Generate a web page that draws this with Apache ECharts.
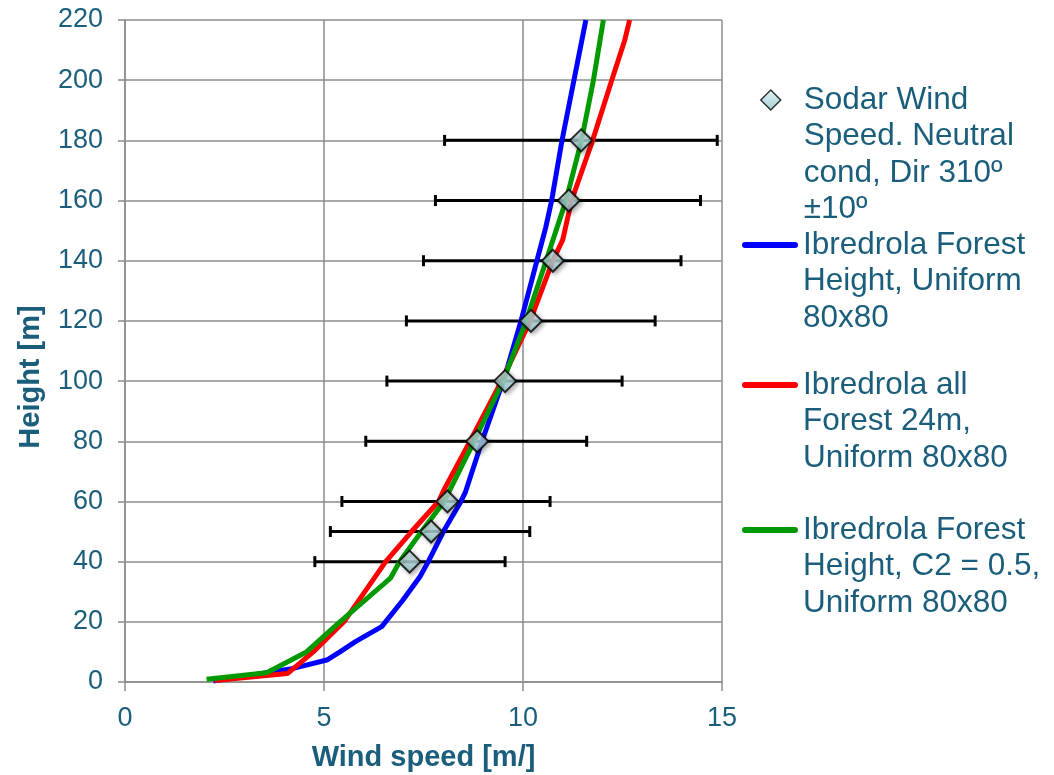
<!DOCTYPE html>
<html>
<head>
<meta charset="utf-8">
<script src="https://cdn.jsdelivr.net/npm/echarts@6/dist/echarts.min.js"></script>
<style>
  html, body { margin: 0; padding: 0; background: #ffffff; }
  #chart { width: 1054px; height: 775px; }
</style>
</head>
<body>
<div id="chart"></div>
<script>
// Sodar measurements: height [m], mean speed and error bar bounds [m/s]
const sodarHeight = [40, 50, 60, 80, 100, 120, 140, 160, 180];
const sodarSpeed  = [7.15, 7.69, 8.1, 8.85, 9.55, 10.2, 10.75, 11.15, 11.46];
const sodarLow    = [4.77, 5.16, 5.45, 6.05, 6.58, 7.07, 7.5, 7.8, 8.03];
const sodarHigh   = [9.55, 10.17, 10.68, 11.6, 12.49, 13.32, 13.97, 14.46, 14.88];

// Model profile: forest height, uniform 80x80
const forestHeightH = [0.3, 4.3, 7.3, 10, 13.5, 18.4, 27, 35, 40, 50, 60, 63, 80, 100, 105, 120, 140, 151, 160, 180, 200, 220];
const forestHeightV = [2.22, 4.15, 5.07, 5.4, 5.8, 6.45, 6.97, 7.41, 7.62, 8.0, 8.44, 8.55, 8.97, 9.5, 9.62, 9.95, 10.35, 10.57, 10.72, 10.98, 11.28, 11.58];

// Model profile: all forest 24 m, uniform 80x80
const allForestH = [0.5, 2.8, 10, 20, 40, 50, 60, 64, 80, 100, 120, 140, 147, 160, 180, 200, 213, 220];
const allForestV = [2.25, 4.08, 4.73, 5.5, 6.55, 7.2, 7.88, 8.02, 8.67, 9.46, 10.18, 10.75, 11.0, 11.22, 11.75, 12.23, 12.55, 12.68];

// Model profile: forest height, C2 = 0.5, uniform 80x80
const c2H = [0.9, 3.1, 10, 20, 34.5, 40, 50, 60, 80, 100, 120, 140, 150, 160, 180, 200, 220];
const c2V = [2.05, 3.56, 4.56, 5.4, 6.67, 6.9, 7.45, 8.02, 8.77, 9.5, 10.08, 10.58, 10.83, 11.08, 11.47, 11.77, 12.02];

const xTicks = [0, 5, 10, 15];
const yTicks = [0, 20, 40, 60, 80, 100, 120, 140, 160, 180, 200, 220];

const seriesNames = [
  'Sodar Wind Speed. Neutral cond, Dir 310º ±10º',
  'Ibredrola Forest Height, Uniform 80x80',
  'Ibredrola all Forest 24m, Uniform 80x80',
  'Ibredrola Forest Height, C2 = 0.5, Uniform 80x80'
];
const legendLines = [
  ['Sodar Wind', 'Speed. Neutral', 'cond, Dir 310º', '±10º'],
  ['Ibredrola Forest', 'Height, Uniform', '80x80'],
  ['Ibredrola all', 'Forest 24m,', 'Uniform 80x80'],
  ['Ibredrola Forest', 'Height, C2 = 0.5,', 'Uniform 80x80']
];

const pairs = (v, h) => v.map((x, i) => [x, h[i]]);

const TEXT = '#1b5e7b';
const FONT = "'Liberation Sans', Arial, sans-serif";
const GRID = '#8c8c8c';
const LH = 36.5;

const diamondFill = () => new echarts.graphic.LinearGradient(0, 0, 0, 1, [
  { offset: 0, color: '#dcf1f3' },
  { offset: 1, color: '#8fc3ca' }
]);

// legend icons: a rounded stroke for the profiles, a centred diamond for the sodar points
const LINE_ICON = 'path://M3,0 L53,0 A3,3 0 0 1 53,6 L3,6 A3,3 0 0 1 3,0 Z';
const DIAMOND_ICON = 'path://M0,0 M56,20 M18,10 L28,0 L38,10 L28,20 Z';

// one legend block per series; blank leading lines keep the icon beside the first text line
function legendBlock(idx, iconY, icon, iconH, itemStyle) {
  const n = legendLines[idx].length;
  return {
    left: 742,
    top: iconY - (2 * n - 1) * LH / 2,
    orient: 'vertical',
    padding: 0,
    itemWidth: 56,
    itemHeight: iconH,
    selectedMode: false,
    data: [{ name: seriesNames[idx], icon: icon, itemStyle: itemStyle }],
    formatter: () => '\n'.repeat(n - 1) + legendLines[idx].join('\n'),
    textStyle: { color: TEXT, fontFamily: FONT, fontSize: 31.5, lineHeight: LH }
  };
}

const chart = echarts.init(document.getElementById('chart'), null, { renderer: 'canvas' });

chart.setOption({
  backgroundColor: '#ffffff',
  animation: false,
  grid: { left: 125, right: 332, top: 20, bottom: 93, containLabel: false, outerBoundsMode: 'none' },
  legend: [
    legendBlock(0, 100, DIAMOND_ICON, 20, { color: diamondFill(), borderColor: '#000000', borderWidth: 1.5 }),
    legendBlock(1, 245, LINE_ICON, 6, { color: '#0000ff', borderWidth: 0 }),
    legendBlock(2, 385, LINE_ICON, 6, { color: '#ff0000', borderWidth: 0 }),
    legendBlock(3, 530, LINE_ICON, 6, { color: '#009a00', borderWidth: 0 })
  ],
  xAxis: {
    type: 'value',
    min: xTicks[0], max: xTicks[xTicks.length - 1], interval: 5,
    name: 'Wind speed [m/]',
    nameLocation: 'middle',
    nameGap: 61,
    nameTextStyle: { color: TEXT, fontFamily: FONT, fontSize: 29, fontWeight: 'bold' },
    axisLine: { show: true, lineStyle: { color: GRID, width: 1.5 } },
    axisTick: { show: true, length: 9, lineStyle: { color: GRID, width: 1.5 } },
    axisLabel: { color: TEXT, fontFamily: FONT, fontSize: 27, margin: 23 },
    splitLine: { show: true, lineStyle: { color: GRID, width: 1.5 } }
  },
  yAxis: {
    type: 'value',
    min: yTicks[0], max: yTicks[yTicks.length - 1], interval: 20,
    name: 'Height [m]',
    nameLocation: 'middle',
    nameGap: 80,
    nameRotate: 90,
    nameTextStyle: { color: TEXT, fontFamily: FONT, fontSize: 29, fontWeight: 'bold', padding: [0, 52, 0, 0] },
    axisLine: { show: true, lineStyle: { color: GRID, width: 1.5 } },
    axisTick: { show: true, length: 7, lineStyle: { color: GRID, width: 1.5 } },
    axisLabel: { color: TEXT, fontFamily: FONT, fontSize: 27, margin: 22 },
    splitLine: { show: true, lineStyle: { color: GRID, width: 1.5 } }
  },
  series: [
    {
      name: seriesNames[0] + ' error',
      type: 'custom',
      z: 2,
      clip: false,
      encode: { x: [0, 1], y: 2 },
      data: sodarHeight.map((h, i) => [sodarLow[i], sodarHigh[i], h]),
      renderItem: (params, api) => {
        const lo = api.coord([api.value(0), api.value(2)]);
        const hi = api.coord([api.value(1), api.value(2)]);
        const cap = 5.5;
        const st = { stroke: '#000000', lineWidth: 3 };
        return {
          type: 'group',
          children: [
            { type: 'line', shape: { x1: lo[0], y1: lo[1], x2: hi[0], y2: hi[1] }, style: st },
            { type: 'line', shape: { x1: lo[0], y1: lo[1] - cap, x2: lo[0], y2: lo[1] + cap }, style: st },
            { type: 'line', shape: { x1: hi[0], y1: hi[1] - cap, x2: hi[0], y2: hi[1] + cap }, style: st }
          ]
        };
      }
    },
    {
      name: seriesNames[1],
      type: 'line',
      z: 3,
      data: pairs(forestHeightV, forestHeightH),
      showSymbol: false,
      lineStyle: { color: '#0000ff', width: 5 },
      itemStyle: { color: '#0000ff' }
    },
    {
      name: seriesNames[2],
      type: 'line',
      z: 3,
      data: pairs(allForestV, allForestH),
      showSymbol: false,
      lineStyle: { color: '#ff0000', width: 5 },
      itemStyle: { color: '#ff0000' }
    },
    {
      name: seriesNames[3],
      type: 'line',
      z: 3,
      data: pairs(c2V, c2H),
      showSymbol: false,
      lineStyle: { color: '#009a00', width: 5 },
      itemStyle: { color: '#009a00' }
    },
    {
      name: seriesNames[0],
      type: 'scatter',
      z: 5,
      symbol: 'diamond',
      symbolSize: 22,
      data: pairs(sodarSpeed, sodarHeight),
      itemStyle: {
        color: diamondFill(),
        borderColor: '#000000',
        borderWidth: 2,
        shadowBlur: 4,
        shadowOffsetX: 2,
        shadowOffsetY: 2,
        shadowColor: 'rgba(0,0,0,0.35)'
      }
    }
  ]
});
</script>
</body>
</html>
